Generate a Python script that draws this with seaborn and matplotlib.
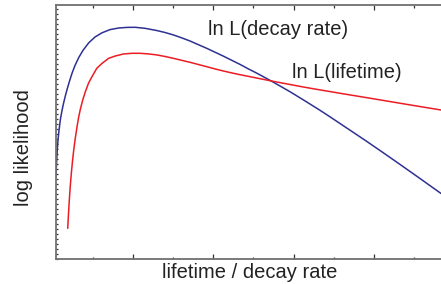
import matplotlib
matplotlib.use("Agg")
import matplotlib.pyplot as plt
import seaborn as sns
import pandas as pd
from matplotlib.ticker import MultipleLocator, FixedLocator, NullFormatter

# ---- data (arbitrary units) ----
blue_x = [0.041, 0.045, 0.050, 0.057, 0.066, 0.078, 0.095, 0.110, 0.125, 0.140,
          0.157, 0.178, 0.209, 0.240, 0.277, 0.324, 0.377, 0.448, 0.527, 0.614,
          0.714, 0.822, 0.925, 1.025, 1.149, 1.295, 1.399, 1.502, 1.598, 1.710,
          1.809, 1.918, 2.021, 2.125, 2.227, 2.333, 2.432, 2.540, 2.623, 2.706,
          2.831, 2.955, 3.142, 3.329, 3.453, 3.578, 3.740, 3.902, 4.114, 4.325,
          4.574, 4.836]
blue_y = [82.6, 91.0, 99.3, 109.5, 119.3, 128.5, 139.5, 146.3, 152.3, 157.7,
          163.3, 169.6, 178.1, 185.9, 193.7, 201.7, 208.9, 216.4, 222.3, 226.5,
          229.7, 231.3, 231.9, 232.0, 231.0, 228.8, 226.8, 224.4, 221.7, 218.3,
          214.8, 211.0, 207.1, 203.2, 199.1, 194.9, 190.6, 186.2, 182.6, 179.0,
          173.3, 167.6, 158.4, 149.0, 142.5, 135.8, 127.1, 118.4, 106.7, 94.9,
          80.8, 65.8]

red_x = [0.187, 0.197, 0.207, 0.219, 0.232, 0.247, 0.262, 0.282, 0.303, 0.323,
         0.344, 0.374, 0.406, 0.447, 0.489, 0.550, 0.614, 0.697, 0.780, 0.880,
         0.988, 1.087, 1.190, 1.295, 1.400, 1.502, 1.606, 1.710, 1.814, 1.918,
         2.021, 2.125, 2.229, 2.333, 2.520, 2.706, 2.955, 3.142, 3.329, 3.640,
         3.951, 4.390, 4.836]
red_y = [31.0, 46.0, 59.3, 73.5, 86.0, 98.5, 109.3, 121.5, 132.6, 142.0,
         150.0, 159.3, 167.5, 176.3, 182.6, 191.1, 195.9, 201.0, 203.3, 205.3,
         206.0, 206.0, 205.4, 204.4, 202.8, 201.0, 199.0, 197.0, 194.8, 192.6,
         190.4, 188.3, 186.4, 184.6, 181.6, 178.6, 174.8, 172.0, 169.4, 165.2,
         161.1, 155.2, 149.3]

label_decay = "ln L(decay rate)"
label_life = "ln L(lifetime)"
xlabel = "lifetime / decay rate"
ylabel = "log likelihood"

sns.set_style("ticks")
plt.rcParams["font.family"] = ["Liberation Sans", "DejaVu Sans"]

W, H = 441, 284
fig = plt.figure(figsize=(W / 100, H / 100), dpi=100)
left_px, right_px, top_px, bottom_px = 56, 444, 5, 259.3
ax = fig.add_axes([left_px / W, (H - bottom_px) / H,
                   (right_px - left_px) / W, (bottom_px - top_px) / H])

df_b = pd.DataFrame({"x": blue_x, "y": blue_y})
df_r = pd.DataFrame({"x": red_x, "y": red_y})
sns.lineplot(data=df_b, x="x", y="y", ax=ax, color="#2e3192", lw=1.1, estimator=None)
sns.lineplot(data=df_r, x="x", y="y", ax=ax, color="#ed1c24", lw=1.1, estimator=None)

x0 = (left_px - 52.7) / 80.3
x1 = (right_px - 52.7) / 80.3
ax.set_xlim(x0, x1)
ax.set_ylim(0, bottom_px - top_px)

ax.xaxis.set_major_locator(FixedLocator([1, 2, 3, 4]))
ax.xaxis.set_minor_locator(FixedLocator([0.5, 1.5, 2.5, 3.5, 4.5]))
ax.xaxis.set_major_formatter(NullFormatter())
ax.xaxis.set_minor_formatter(NullFormatter())
ax.yaxis.set_major_locator(FixedLocator([]))
ax.yaxis.set_minor_locator(MultipleLocator(5))
ax.yaxis.set_minor_formatter(NullFormatter())

ax.tick_params(axis="x", which="major", direction="in", length=3.4, width=0.9,
               color="#333333", top=True, bottom=True)
ax.tick_params(axis="x", which="minor", direction="in", length=1.8, width=0.9,
               color="#333333", top=True, bottom=True)
ax.tick_params(axis="y", which="minor", direction="in", length=1.6, width=0.9,
               color="#333333", left=True, right=False)

for name, sp in ax.spines.items():
    sp.set_color("#707070")
    sp.set_linewidth(1.3)
ax.spines["right"].set_visible(False)

ax.set_xlabel(xlabel, fontsize=14.5, color="#222222")
ax.set_ylabel(ylabel, fontsize=14.5, color="#222222")
ax.xaxis.set_label_coords(0.5, -0.013)
ax.yaxis.set_label_coords((33 - left_px) / (right_px - left_px),
                          (bottom_px - 148) / (bottom_px - top_px))

ax.text((208 - 52.7) / 80.3, bottom_px - 35, label_decay, fontsize=14.5,
        color="#222222", va="baseline", ha="left")
ax.text((292 - 52.7) / 80.3, bottom_px - 78.3, label_life, fontsize=14.5,
        color="#222222", va="baseline", ha="left")

fig.savefig("out.png", dpi=100)
